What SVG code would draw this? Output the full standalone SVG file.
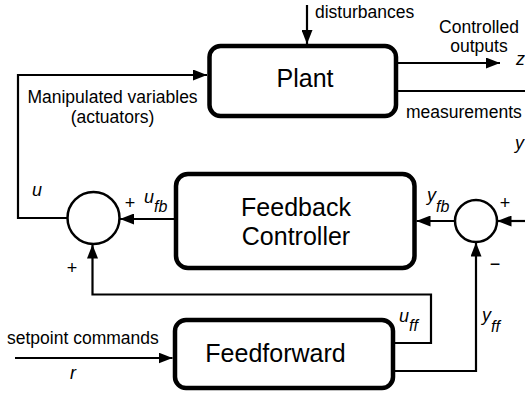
<svg xmlns="http://www.w3.org/2000/svg" width="525" height="394" viewBox="0 0 525 394">
<style>
.box{fill:#fff;stroke:#000;stroke-width:4.5}
.sum{fill:#fff;stroke:#000;stroke-width:2.5}
.ln{fill:none;stroke:#000;stroke-width:2.2}
.big{font-family:"Liberation Sans",Arial,sans-serif;font-size:25px;fill:#000}
.lbl{font-family:"Liberation Sans",Arial,sans-serif;font-size:17.5px;fill:#000}
.var{font-family:"Liberation Sans",Arial,sans-serif;font-size:18px;font-style:italic;fill:#000}
.sub{font-size:16px}
.sgn{font-family:"Liberation Sans",Arial,sans-serif;font-size:18px;fill:#000}
</style>
<defs>
<marker id="ah" viewBox="0 0 14 11" refX="14" refY="5.5" markerWidth="14" markerHeight="11" markerUnits="userSpaceOnUse" orient="auto">
<path d="M0,0 L14,5.5 L0,11 z" fill="#000"/>
</marker>
</defs>
<g id="connectors">
<path class="ln" d="M307,5 L307,44" marker-end="url(#ah)"/>
<path class="ln" d="M396,63 L500,63" marker-end="url(#ah)"/>
<path class="ln" d="M396,91 L525,91"/>
<path class="ln" d="M67,218 L18,218 L18,75 L207,75" marker-end="url(#ah)"/>
<path class="ln" d="M174,219 L120,219" marker-end="url(#ah)"/>
<path class="ln" d="M393,343 L431,343 L431,294.5 L92.5,294.5 L92.5,244.5" marker-end="url(#ah)"/>
<path class="ln" d="M393,371 L476,371 L476,242.5" marker-end="url(#ah)"/>
<path class="ln" d="M455,221 L416.5,221" marker-end="url(#ah)"/>
<path class="ln" d="M525,221 L497.5,221" marker-end="url(#ah)"/>
<path class="ln" d="M15,358 L172.5,358" marker-end="url(#ah)"/>
</g>
<g id="plant">
<rect class="box" x="209.5" y="46" width="186.5" height="70" rx="11"/>
<text class="big" x="305" y="87" text-anchor="middle">Plant</text>
</g>
<g id="feedback-controller">
<rect class="box" x="176" y="174" width="238.5" height="94" rx="12"/>
<text class="big" x="296" y="216" text-anchor="middle">Feedback</text>
<text class="big" x="296" y="245" text-anchor="middle">Controller</text>
</g>
<g id="feedforward">
<rect class="box" x="175" y="320" width="218" height="68" rx="11"/>
<text class="big" x="275.5" y="362" text-anchor="middle">Feedforward</text>
</g>
<g id="sum-u">
<circle class="sum" cx="93.5" cy="218" r="26"/>
<text class="sgn" x="130" y="209" text-anchor="middle">+</text>
<text class="sgn" x="72" y="274" text-anchor="middle">+</text>
</g>
<g id="sum-y">
<circle class="sum" cx="476" cy="221" r="21"/>
<text class="sgn" x="505" y="209" text-anchor="middle">+</text>
<text class="sgn" x="495" y="270" text-anchor="middle">−</text>
</g>
<g id="labels">
<text class="lbl" x="315" y="18">disturbances</text>
<text class="lbl" x="479" y="33" text-anchor="middle">Controlled</text>
<text class="lbl" x="479" y="52" text-anchor="middle">outputs</text>
<text class="var" x="516" y="65">z</text>
<text class="lbl" x="406" y="118">measurements</text>
<text class="var" x="515" y="149">y</text>
<text class="lbl" x="112.5" y="103" text-anchor="middle">Manipulated variables</text>
<text class="lbl" x="112.5" y="123" text-anchor="middle">(actuators)</text>
<text class="var" x="32" y="196">u</text>
<text class="var" x="144" y="203">u<tspan class="sub" dy="9">fb</tspan></text>
<text class="var" x="427" y="201">y<tspan class="sub" dy="11">fb</tspan></text>
<text class="var" x="399" y="322">u<tspan class="sub" dy="9">ff</tspan></text>
<text class="var" x="482" y="321">y<tspan class="sub" dy="11">ff</tspan></text>
<text class="lbl" x="7" y="344">setpoint commands</text>
<text class="var" x="70" y="379">r</text>
</g>
</svg>
